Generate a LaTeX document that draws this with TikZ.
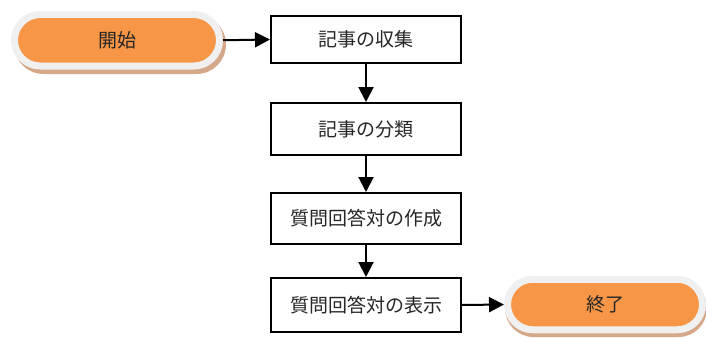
\documentclass[tikz,border=0pt]{standalone}
\usepackage{fontspec}
\newfontfamily\cjk{Noto Sans CJK JP}
\usetikzlibrary{arrows.meta,shapes.misc}
\definecolor{termorange}{RGB}{247,150,70}
\definecolor{rimgray}{RGB}{240,240,240}
\definecolor{shadowc}{RGB}{214,168,138}
\tikzset{
  every node/.style={font=\cjk\fontsize{19}{21}\selectfont, text=black!85},
  stepbox/.style={draw=black, line width=2pt, fill=white, minimum width=190pt, inner sep=0pt},
  term/.style={rounded rectangle, draw=rimgray, line width=7pt, fill=termorange, inner sep=0pt},
  flow/.style={line width=2pt, -{Triangle[length=15pt,width=15pt]}}
}
\begin{document}
\begin{tikzpicture}[x=1pt,y=-1pt]
\useasboundingbox (0,0) rectangle (706,337);
% shadows
\fill[shadowc] (14,15) [rounded corners=29.5pt] rectangle (226,74);
\fill[shadowc] (505,280) [rounded corners=28.5pt] rectangle (707,337);
% terminals
\node[term, minimum width=205pt, minimum height=51.5pt] (start) at (117,40.25) {開始};
\node[term, minimum width=195pt, minimum height=50.5pt] (end) at (605,304.5) {終了};
% steps
\node[stepbox, minimum height=47pt] (s1) at (366,39.5) {記事の収集};
\node[stepbox, minimum height=52pt] (s2) at (366,129) {記事の分類};
\node[stepbox, minimum height=51pt] (s3) at (366,218.5) {質問回答対の作成};
\node[stepbox, minimum height=54pt] (s4) at (366,305) {質問回答対の表示};
% connectors
\draw[flow] (start.east) -- (s1.west);
\draw[flow] (s1) -- (s2);
\draw[flow] (s2) -- (s3);
\draw[flow] (s3) -- (s4);
\draw[flow] (s4.east) -- (end.west);
\end{tikzpicture}
\end{document}
